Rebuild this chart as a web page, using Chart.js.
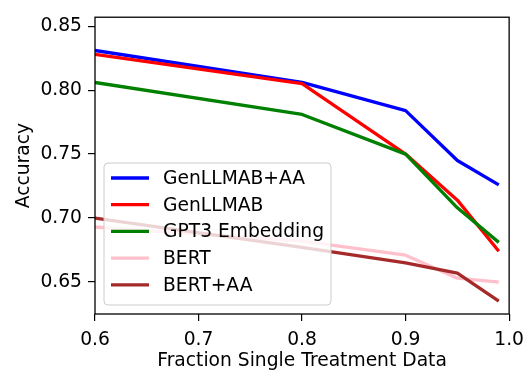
<!DOCTYPE html>
<html>
<head>
<meta charset="utf-8">
<script src="https://cdn.jsdelivr.net/npm/chart.js@4"></script>
<style>
  html, body { margin: 0; padding: 0; background: #fff; }
  #wrap { width: 532px; height: 374px; }
</style>
</head>
<body>
<div id="wrap"><canvas id="chart" width="532" height="374"></canvas></div>
<script>
// data
const fractions = [0.6, 0.8, 0.9, 0.95, 0.99];
const genllmabAA = [0.831, 0.806, 0.784, 0.745, 0.726];
const genllmab = [0.828, 0.805, 0.750, 0.714, 0.674];
const gpt3 = [0.806, 0.781, 0.750, 0.708, 0.681];
const bert = [0.693, 0.682, 0.671, 0.653, 0.650];
const bertAA = [0.700, 0.677, 0.665, 0.657, 0.635];

const seriesNames = ['GenLLMAB+AA', 'GenLLMAB', 'GPT3 Embedding', 'BERT', 'BERT+AA'];
const seriesValues = [genllmabAA, genllmab, gpt3, bert, bertAA];
const seriesColors = ['#0000ff', '#ff0000', '#008000', '#ffc0cb', '#a52a2a'];

const xTicks = [0.6, 0.7, 0.8, 0.9, 1.0];
const yTicks = [0.65, 0.70, 0.75, 0.80, 0.85];

Chart.defaults.font.family = '"DejaVu Sans", sans-serif';
Chart.defaults.font.size = 18.7;
Chart.defaults.color = '#000';

// axes box (matplotlib spines)
const frame = {
    id: 'frame',
    afterDatasetsDraw(chart) {
        const a = chart.chartArea;
        const ctx = chart.ctx;
        ctx.save();
        ctx.strokeStyle = '#000';
        ctx.lineWidth = 1.3;
        ctx.strokeRect(a.left, a.top, a.right - a.left, a.bottom - a.top);
        ctx.restore();
    }
};

// legend inside the axes, lower left
const innerLegend = {
    id: 'innerLegend',
    afterDraw(chart) {
        const a = chart.chartArea;
        const ctx = chart.ctx;
        const sets = chart.data.datasets;
        const rowH = 26.7;
        const pad = 7;
        const handle = 38;
        const gap = 14;
        ctx.save();
        ctx.font = '18.7px "DejaVu Sans"';
        let maxW = 0;
        sets.forEach(d => { maxW = Math.max(maxW, ctx.measureText(d.label).width); });
        const w = pad + handle + gap + maxW + pad;
        const h = 142;
        const x0 = a.left + 9;
        const y0 = a.bottom - 9 - h;
        ctx.beginPath();
        ctx.roundRect(x0, y0, w, h, 4);
        ctx.fillStyle = 'rgba(255,255,255,0.8)';
        ctx.fill();
        ctx.strokeStyle = '#cccccc';
        ctx.lineWidth = 1;
        ctx.stroke();
        ctx.textBaseline = 'middle';
        ctx.textAlign = 'left';
        sets.forEach((d, i) => {
            const y = y0 + 15 + i * rowH;
            ctx.strokeStyle = d.borderColor;
            ctx.lineWidth = 3.3;
            ctx.beginPath();
            ctx.moveTo(x0 + pad, y);
            ctx.lineTo(x0 + pad + handle, y);
            ctx.stroke();
            ctx.fillStyle = '#000';
            ctx.fillText(d.label, x0 + pad + handle + gap, y + 1);
        });
        ctx.restore();
    }
};

new Chart(document.getElementById('chart'), {
    type: 'line',
    data: {
        datasets: seriesNames.map((name, i) => ({
            label: name,
            data: fractions.map((f, j) => ({ x: f, y: seriesValues[i][j] })),
            borderColor: seriesColors[i],
            backgroundColor: seriesColors[i],
            borderWidth: 3.3,
            pointRadius: 0,
            tension: 0,
            borderJoinStyle: 'round',
            order: seriesNames.length - i
        }))
    },
    options: {
        responsive: false,
        animation: false,
        layout: { padding: { top: 5, right: 21, left: 0, bottom: 0 } },
        plugins: { legend: { display: false }, tooltip: { enabled: false } },
        scales: {
            x: {
                type: 'linear',
                min: 0.6,
                max: 1.0,
                afterBuildTicks: s => { s.ticks = xTicks.map(v => ({ value: v })); },
                afterFit: s => { s.height = 60; },
                ticks: { callback: v => v.toFixed(1), padding: 8, maxRotation: 0 },
                grid: { drawOnChartArea: false, tickLength: 7, color: '#000', lineWidth: 1.2 },
                border: { display: false },
                title: { display: true, text: 'Fraction Single Treatment Data', padding: { top: 0, bottom: 2 } }
            },
            y: {
                min: 0.625,
                max: 0.857,
                afterBuildTicks: s => { s.ticks = yTicks.map(v => ({ value: v })); },
                afterFit: s => { s.width = 95; },
                ticks: { callback: v => v.toFixed(2), padding: 6 },
                grid: { drawOnChartArea: false, tickLength: 7, color: '#000', lineWidth: 1.2 },
                border: { display: false },
                title: { display: true, text: 'Accuracy', padding: { top: 13, bottom: 0 } }
            }
        }
    },
    plugins: [frame, innerLegend]
});
</script>
</body>
</html>
